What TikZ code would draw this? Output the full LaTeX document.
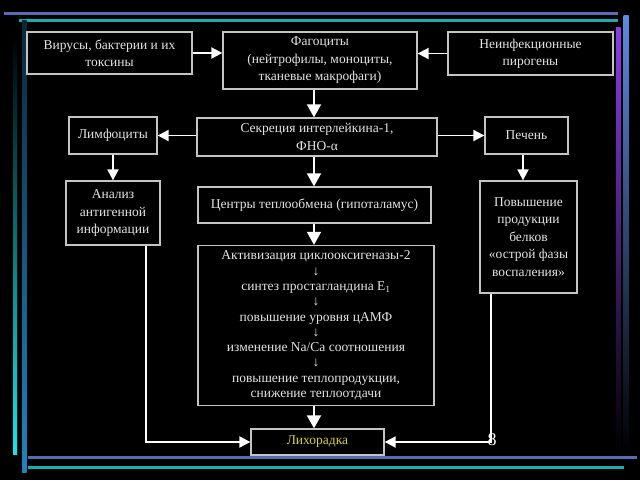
\documentclass[tikz,border=0pt]{standalone}
\usepackage{fontspec}
\setmainfont{Liberation Serif}
\usetikzlibrary{arrows.meta}
\usetikzlibrary{calc,positioning}
\definecolor{txtgray}{RGB}{228,228,228}
\definecolor{boxgray}{RGB}{196,196,196}
\definecolor{feveryel}{RGB}{212,212,58}
\definecolor{barblue}{RGB}{84,108,182}
\definecolor{barteal}{RGB}{28,172,172}
\definecolor{sidecyan}{RGB}{20,232,236}
\definecolor{sideblue}{RGB}{30,132,192}
\definecolor{sidepurple}{RGB}{142,60,232}
\definecolor{sidelblue}{RGB}{92,140,222}

\begin{document}
\begin{tikzpicture}[x=1pt,y=-1pt,
	box/.style={draw=boxgray, line width=1.3pt, text=txtgray,
	align=center, inner sep=0pt, font=\fontsize{13.5}{17.5}\selectfont},
	arr/.style={draw=white, line width=1.9pt, -{Triangle[width=11pt,length=11pt]}},
	darr/.style={draw=white, line width=1.9pt, -{Triangle[width=14pt,length=13pt]}}]
\fill[black] (0,0) rectangle (640,480);
\useasboundingbox (0,0) rectangle (640,480);
\fill[barblue] (4,11.5) rectangle (618,14.5);
\fill[barteal] (19,19) rectangle (618,22);
\fill[barblue] (28,455.5) rectangle (637,458.5);
\fill[barteal] (28,466) rectangle (624,469);
\shade[top color=black, bottom color=sidecyan] (13,33) rectangle (17,454);
\shade[top color=black!70!sideblue, bottom color=sideblue] (22,20) rectangle (26.5,472);
\shade[top color=sidepurple, bottom color=black] (616,27) rectangle (620.5,452);
\shade[top color=sidelblue, bottom color=black] (623.5,15) rectangle (628.5,452);
\coordinate (axis) at (314,0);
\coordinate (lturn) at (146,0);
\coordinate (rturn) at (491,0);
\node[box, minimum width=165, minimum height=42] (virus) at (109.5,53) {Вирусы, бактерии и их\\токсины};
\node[box, minimum width=194, minimum height=57] (phag) at (320,60.5) {Фагоциты\\(нейтрофилы, моноциты,\\тканевые макрофаги)};
\node[box, minimum width=165, minimum height=43] (nonin) at (530.5,53.5) {Неинфекционные\\пирогены};
\node[box, minimum width=88, minimum height=37] (lymph) at (113,135.5) {Лимфоциты};
\node[box, minimum width=240, minimum height=38] (secr) at (317,137) {Секреция интерлейкина-1,\\ФНО-α};
\node[box, minimum width=83, minimum height=37] (liver) at (526.5,135.5) {Печень};
\node[box, minimum width=94, minimum height=64] (anal) at (113,213) {Анализ\\антигенной\\информации};
\node[box, minimum width=233, minimum height=36] (centr) at (314.5,205) {Центры теплообмена (гипоталамус)};
\node[box, minimum width=97, minimum height=112] (prot) at (528.5,237) {Повышение\\продукции\\белков\\«острой фазы\\воспаления»};
\node[box, minimum width=236, minimum height=160, font=\fontsize{13.5}{15.3}\selectfont] (chain) at (316,325.5) {Активизация циклооксигеназы-2\\↓\\синтез простагландина Е\textsubscript{1}\\↓\\повышение уровня цАМФ\\↓\\изменение Na/Ca соотношения\\↓\\повышение теплопродукции,\\снижение теплоотдачи};
\node[box, minimum width=133, minimum height=26, text=feveryel] (fever) at (317.5,442) {Лихорадка};
\node[text=white, font=\fontsize{18}{18}\selectfont, inner sep=0pt] (pagenum) at (492,440) {8};
\draw[arr] (virus.east) -- (virus.east -| phag.west);
\draw[arr] (nonin.west) -- (nonin.west -| phag.east);
\draw[darr] (phag.south -| axis) -- (secr.north -| axis);
\draw[arr] (secr.west |- lymph.east) -- (lymph.east);
\draw[arr] (secr.east |- liver.west) -- (liver.west);
\draw[arr] (lymph.south -| anal.north) -- (anal.north);
\draw[arr] (liver.south -| 523,0) -- (prot.north -| 523,0);
\draw[darr] (secr.south -| axis) -- (centr.north -| axis);
\draw[darr] (centr.south -| axis) -- (chain.north -| axis);
\draw[darr] (chain.south -| axis) -- (fever.north -| axis);
\draw[arr] (anal.south -| lturn) |- (fever.west);
\draw[arr] (prot.south -| rturn) |- (fever.east);
\end{tikzpicture}
\end{document}
